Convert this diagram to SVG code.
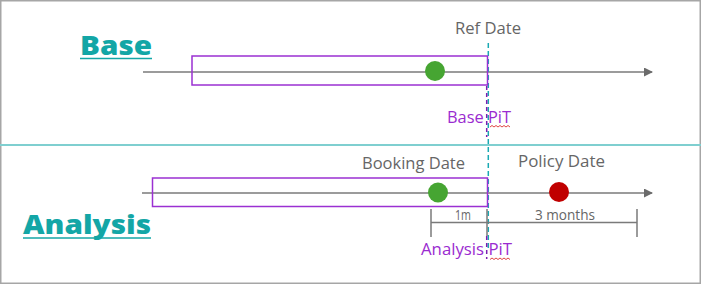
<svg xmlns="http://www.w3.org/2000/svg" width="701" height="284" viewBox="0 0 701 284">
<style>
.head{font-family:"Open Sans","Liberation Sans",sans-serif;font-weight:800;font-size:27px;fill:#13a6a6}
.lbl{font-family:"Open Sans","Liberation Sans",sans-serif;font-size:16px;fill:#666666}
.sm{font-family:"Open Sans","Liberation Sans",sans-serif;font-size:14px;fill:#666666}
.pit{font-family:"Open Sans","Liberation Sans",sans-serif;font-size:16px;fill:#9a2bd0}
.ul{stroke:#13a6a6;stroke-width:1.5}
.axis{stroke:#7a7a7a;stroke-width:1.5;fill:none}
.win{fill:none;stroke:#9b30d2;stroke-width:1.5}
.meas{stroke:#7a7a7a;stroke-width:1.5;fill:none}
.tealdash{stroke:#1aa9b3;stroke-width:1.5;stroke-dasharray:5 3;fill:none}
.purdash{stroke:#7a1fb0;stroke-width:1.5;stroke-dasharray:4 3;fill:none}
.sq{stroke:#e04545;stroke-width:1;fill:none}
</style>
<defs>
<marker id="arr" markerWidth="10" markerHeight="10" refX="8" refY="4.5" orient="auto" markerUnits="userSpaceOnUse">
<path d="M0,0 L9,4.5 L0,9 Z" fill="#6b6b6b"/>
</marker>
</defs>
<rect x="0.75" y="0.75" width="699.5" height="282.5" fill="#ffffff" stroke="#a6a6a6" stroke-width="1.5"/>
<line x1="0" y1="145" x2="701" y2="145" stroke="#7fcfd0" stroke-width="2"/>

<g id="connectors">
<line class="axis" x1="143" y1="72" x2="652" y2="72" marker-end="url(#arr)"/>
<line class="axis" x1="142" y1="193" x2="652" y2="193" marker-end="url(#arr)"/>
<line class="tealdash" x1="488.3" y1="43" x2="488.3" y2="250"/>
<line class="purdash" x1="486.7" y1="86" x2="486.7" y2="137"/>
<line class="purdash" x1="486.7" y1="236" x2="486.7" y2="259"/>
<g id="measure">
<line class="meas" x1="431" y1="209" x2="431" y2="237"/>
<line class="meas" x1="487" y1="209" x2="487" y2="236" stroke="#555" stroke-width="2"/>
<line class="meas" x1="637" y1="209" x2="637" y2="237"/>
<line class="meas" x1="431" y1="222.5" x2="637" y2="222.5"/>
</g>
</g>

<g id="base-label">
<text class="head" x="80" y="55" textLength="72" lengthAdjust="spacingAndGlyphs">Base</text>
<line class="ul" x1="80" y1="58.5" x2="152" y2="58.5"/>
</g>
<g id="analysis-label">
<text class="head" x="23" y="234" textLength="128" lengthAdjust="spacingAndGlyphs">Analysis</text>
<line class="ul" x1="23" y1="238" x2="151" y2="238"/>
</g>

<g id="base-window">
<rect class="win" x="192" y="56" width="295.5" height="29"/>
</g>
<g id="analysis-window">
<rect class="win" x="152.5" y="178" width="335" height="28.5"/>
</g>

<g id="base-event">
<circle cx="435" cy="71" r="10" fill="#46a532"/>
</g>
<g id="booking-event">
<circle cx="438" cy="192.5" r="10" fill="#46a532"/>
<text class="lbl" x="362" y="169" textLength="103" lengthAdjust="spacingAndGlyphs">Booking Date</text>
</g>
<g id="policy-event">
<circle cx="559" cy="192" r="10" fill="#c00000"/>
<text class="lbl" x="518" y="167" textLength="87" lengthAdjust="spacingAndGlyphs">Policy Date</text>
</g>

<g id="ref-date">
<text class="lbl" x="455" y="34" textLength="66" lengthAdjust="spacingAndGlyphs">Ref Date</text>
</g>

<g id="base-pit">
<text class="pit" x="447" y="123" textLength="64" lengthAdjust="spacingAndGlyphs">Base PiT</text>
<path class="sq" d="M490,127 l2,-1.5 l2,1.5 l2,-1.5 l2,1.5 l2,-1.5 l2,1.5 l2,-1.5 l2,1.5 l2,-1.5 l2,1.5"/>
</g>
<g id="analysis-pit">
<text class="pit" x="421" y="255" textLength="91" lengthAdjust="spacingAndGlyphs">Analysis PiT</text>
<path class="sq" d="M490,259.5 l2,-1.5 l2,1.5 l2,-1.5 l2,1.5 l2,-1.5 l2,1.5 l2,-1.5 l2,1.5 l2,-1.5 l2,1.5"/>
</g>

<g id="label-1m">
<text class="sm" x="455" y="220" textLength="16" lengthAdjust="spacingAndGlyphs">1m</text>
</g>
<g id="label-3months">
<text class="sm" x="535" y="220" textLength="60" lengthAdjust="spacingAndGlyphs">3 months</text>
</g>
</svg>
